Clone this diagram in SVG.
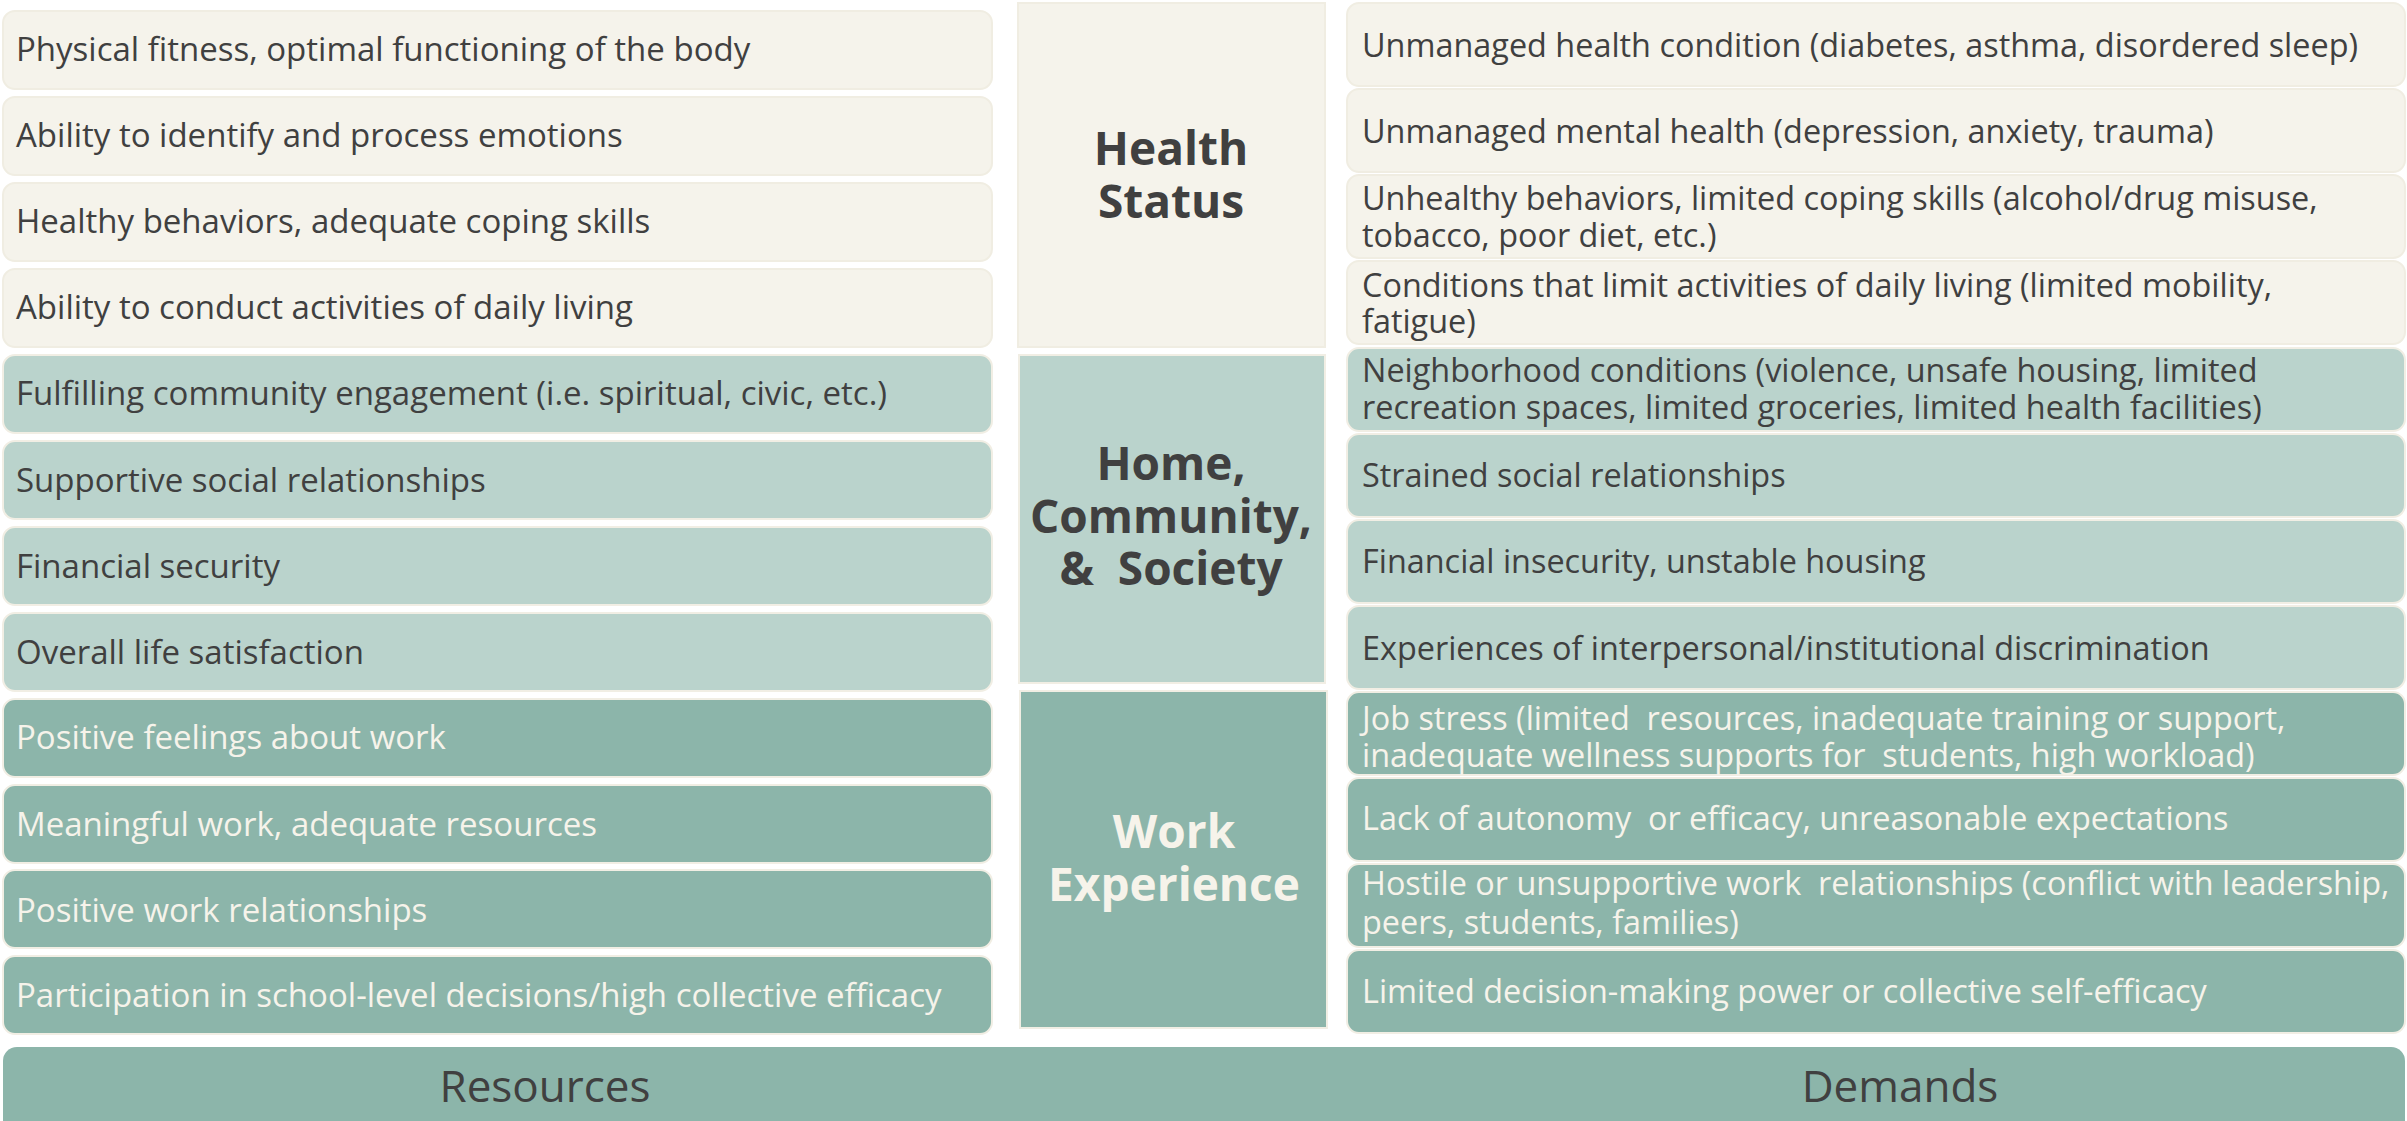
<svg xmlns="http://www.w3.org/2000/svg" width="2407" height="1121" viewBox="0 0 2407 1121">
<style>
.bg{fill:#ffffff}
.cream{fill:#F5F3EB;stroke:#F0EDE2;stroke-width:2}
.lteal{fill:#BAD3CC;stroke:#F1EEE4;stroke-width:2}
.dteal{fill:#8CB5AA;stroke:#F1EEE4;stroke-width:2}
.t{font-family:"Open Sans","Noto Sans","Liberation Sans",sans-serif;font-size:32.5px;fill:#404040;white-space:pre}
.tr{font-size:32.4px}
.tleft{font-size:33px}
.tl{fill:#F6F3EA}
.h{font-family:"Open Sans","Noto Sans","Liberation Sans",sans-serif;font-size:46px;font-weight:bold;fill:#404040;text-anchor:middle;white-space:pre}
.hl{fill:#F6F3EA}
.f{font-family:"Open Sans","Noto Sans","Liberation Sans",sans-serif;font-size:44px;fill:#404040;text-anchor:middle}
</style>
<rect class="bg" x="0" y="0" width="2407" height="1121"/>

<g id="resources">
  <g id="r1"><rect class="cream" x="3" y="11" width="989" height="78" rx="12"/><text class="t tleft" x="16" y="61">Physical fitness, optimal functioning of the body</text></g>
  <g id="r2"><rect class="cream" x="3" y="97" width="989" height="78" rx="12"/><text class="t tleft" x="16" y="147">Ability to identify and process emotions</text></g>
  <g id="r3"><rect class="cream" x="3" y="183" width="989" height="78" rx="12"/><text class="t tleft" x="16" y="233">Healthy behaviors, adequate coping skills</text></g>
  <g id="r4"><rect class="cream" x="3" y="269" width="989" height="78" rx="12"/><text class="t tleft" x="16" y="319">Ability to conduct activities of daily living</text></g>
  <g id="r5"><rect class="lteal" x="3" y="355" width="989" height="78" rx="12"/><text class="t tleft" x="16" y="405">Fulfilling community engagement (i.e. spiritual, civic, etc.)</text></g>
  <g id="r6"><rect class="lteal" x="3" y="441" width="989" height="78" rx="12"/><text class="t tleft" x="16" y="492">Supportive social relationships</text></g>
  <g id="r7"><rect class="lteal" x="3" y="527" width="989" height="78" rx="12"/><text class="t tleft" x="16" y="578">Financial security</text></g>
  <g id="r8"><rect class="lteal" x="3" y="613" width="989" height="78" rx="12"/><text class="t tleft" x="16" y="664">Overall life satisfaction</text></g>
  <g id="r9"><rect class="dteal" x="3" y="699" width="989" height="78" rx="12"/><text class="t tleft tl" x="16" y="749">Positive feelings about work</text></g>
  <g id="r10"><rect class="dteal" x="3" y="785" width="989" height="78" rx="12"/><text class="t tleft tl" x="16" y="836">Meaningful work, adequate resources</text></g>
  <g id="r11"><rect class="dteal" x="3" y="870" width="989" height="78" rx="12"/><text class="t tleft tl" x="16" y="922">Positive work relationships</text></g>
  <g id="r12"><rect class="dteal" x="3" y="956" width="989" height="78" rx="12"/><text class="t tleft tl" x="16" y="1007">Participation in school-level decisions/high collective efficacy</text></g>
</g>

<g id="categories">
  <g id="health-status"><rect class="cream" x="1018" y="3" width="307" height="344"/><text class="h" x="1171" y="165">Health</text><text class="h" x="1171" y="218">Status</text></g>
  <g id="home-community-society"><rect class="lteal" x="1019" y="355" width="306" height="328"/><text class="h" x="1171" y="480">Home,</text><text class="h" x="1171" y="533">Community,</text><text class="h" x="1171" y="585">&amp;  Society</text></g>
  <g id="work-experience"><rect class="dteal" x="1020" y="691" width="307" height="337"/><text class="h hl" x="1174" y="848">Work</text><text class="h hl" x="1174" y="901">Experience</text></g>
</g>

<g id="demands">
  <g id="d1"><rect class="cream" x="1347" y="3" width="1058" height="83" rx="12"/><text class="t tr" x="1362" y="57">Unmanaged health condition (diabetes, asthma, disordered sleep)</text></g>
  <g id="d2"><rect class="cream" x="1347" y="89" width="1058" height="83" rx="12"/><text class="t tr" x="1362" y="143">Unmanaged mental health (depression, anxiety, trauma)</text></g>
  <g id="d3"><rect class="cream" x="1347" y="175" width="1058" height="83" rx="12"/><text class="t tr" x="1362" y="210">Unhealthy behaviors, limited coping skills (alcohol/drug misuse,</text><text class="t tr" x="1362" y="247">tobacco, poor diet, etc.)</text></g>
  <g id="d4"><rect class="cream" x="1347" y="261" width="1058" height="83" rx="12"/><text class="t tr" x="1362" y="297">Conditions that limit activities of daily living (limited mobility,</text><text class="t tr" x="1362" y="333">fatigue)</text></g>
  <g id="d5"><rect class="lteal" x="1347" y="348" width="1058" height="83" rx="12"/><text class="t tr" x="1362" y="382">Neighborhood conditions (violence, unsafe housing, limited</text><text class="t tr" x="1362" y="419">recreation spaces, limited groceries, limited health facilities)</text></g>
  <g id="d6"><rect class="lteal" x="1347" y="434" width="1058" height="83" rx="12"/><text class="t tr" x="1362" y="487">Strained social relationships</text></g>
  <g id="d7"><rect class="lteal" x="1347" y="520" width="1058" height="83" rx="12"/><text class="t tr" x="1362" y="573">Financial insecurity, unstable housing</text></g>
  <g id="d8"><rect class="lteal" x="1347" y="606" width="1058" height="83" rx="12"/><text class="t tr" x="1362" y="660">Experiences of interpersonal/institutional discrimination</text></g>
  <g id="d9"><rect class="dteal" x="1347" y="692" width="1058" height="83" rx="12"/><text class="t tr tl" x="1362" y="730">Job stress (limited  resources, inadequate training or support,</text><text class="t tr tl" x="1362" y="767">inadequate wellness supports for  students, high workload)</text></g>
  <g id="d10"><rect class="dteal" x="1347" y="778" width="1058" height="83" rx="12"/><text class="t tr tl" x="1362" y="830">Lack of autonomy  or efficacy, unreasonable expectations</text></g>
  <g id="d11"><rect class="dteal" x="1347" y="864" width="1058" height="83" rx="12"/><text class="t tr tl" x="1362" y="895">Hostile or unsupportive work  relationships (conflict with leadership,</text><text class="t tr tl" x="1362" y="934">peers, students, families)</text></g>
  <g id="d12"><rect class="dteal" x="1347" y="950" width="1058" height="83" rx="12"/><text class="t tr tl" x="1362" y="1003">Limited decision-making power or collective self-efficacy</text></g>
</g>

<g id="footer">
  <rect class="dteal" x="3" y="1047" width="2402" height="90" rx="14" style="stroke:none"/>
  <text class="f" x="545" y="1102">Resources</text>
  <text class="f" x="1900" y="1102">Demands</text>
</g>
<g id="connectors"></g>
</svg>
